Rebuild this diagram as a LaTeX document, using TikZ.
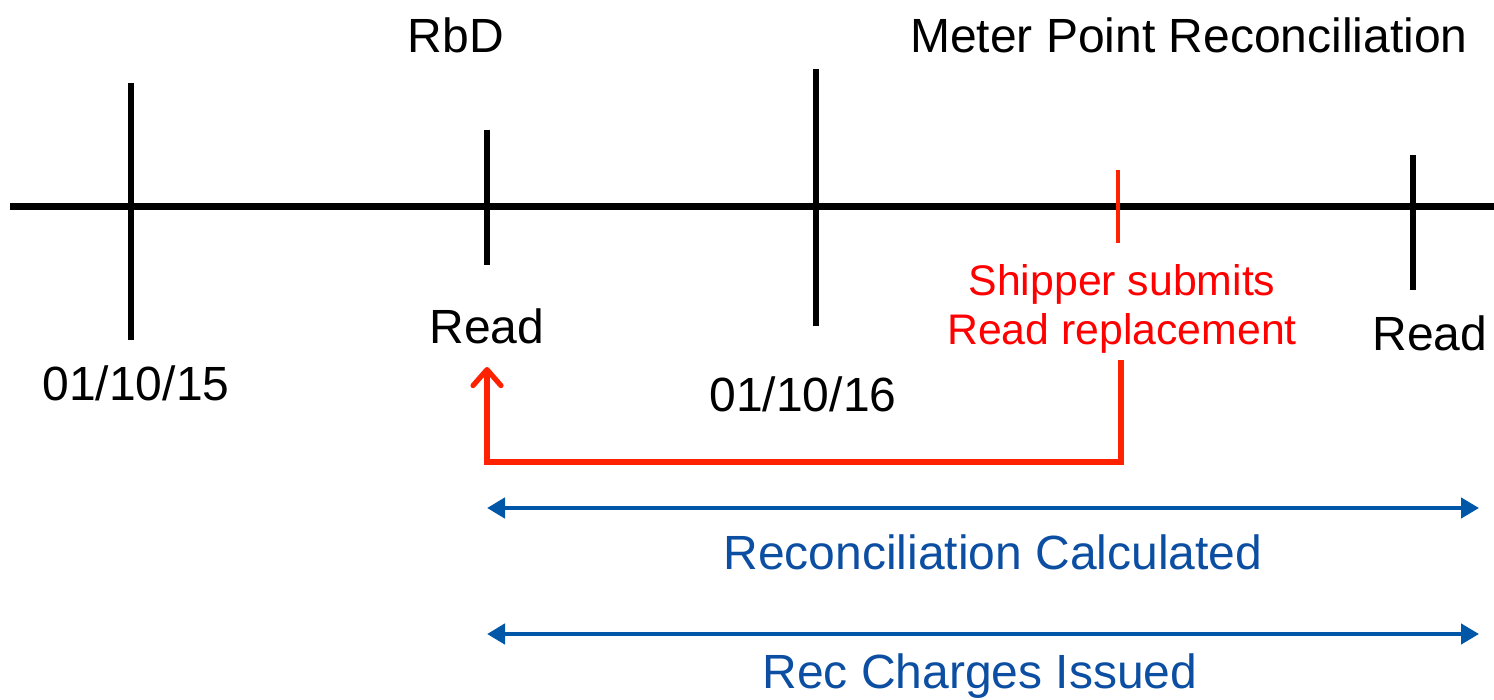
\documentclass[tikz,border=0pt]{standalone}
\usepackage{fontspec}
\setmainfont{Liberation Sans}
\usetikzlibrary{arrows.meta}
\definecolor{redline}{HTML}{FF2200}
\definecolor{redtext}{HTML}{FF0000}
\definecolor{blueline}{HTML}{0057A8}
\definecolor{bluetext}{HTML}{0B4EA2}
\begin{document}
\begin{tikzpicture}[x=0.5pt,y=-0.5pt,
  lbl/.style={font=\fontsize{24}{29}\selectfont, inner sep=0pt, anchor=center},
  redlbl/.style={font=\fontsize{21.4}{26}\selectfont, inner sep=0pt, anchor=center, text=redtext},
  axisline/.style={line width=3.5pt, black},
  tick/.style={line width=3pt, black},
  redtick/.style={line width=2pt, redline},
  redarrow/.style={line width=2.6pt, redline, -{Straight Barb[length=8pt,width=14pt,line width=2.6pt,round]}},
  bluearrow/.style={line width=2.2pt, blueline, {Triangle[length=9pt,width=10pt]}-{Triangle[length=9pt,width=10pt]}}
  ]
\useasboundingbox (0,0) rectangle (1494,700);
% axis
\coordinate (axL) at (10,207);
\coordinate (axR) at (1494,207);
\draw[axisline] (axL) -- (axR);
% ticks
\coordinate (t1a) at (131,83);  \coordinate (t1b) at (131,340);
\coordinate (t2a) at (487,130); \coordinate (t2b) at (487,265);
\coordinate (t3a) at (816,69);  \coordinate (t3b) at (816,326);
\coordinate (t4a) at (1118,170); \coordinate (t4b) at (1118,243);
\coordinate (t5a) at (1413,155); \coordinate (t5b) at (1413,290);
\draw[tick] (t1a) -- (t1b);
\draw[tick] (t2a) -- (t2b);
\draw[tick] (t3a) -- (t3b);
\draw[redtick] (t4a) -- (t4b);
\draw[tick] (t5a) -- (t5b);
% labels
\node[lbl] (rbd) at (456,35) {RbD};
\node[lbl] (mpr) at (1189,35) {Meter Point Reconciliation};
\node[lbl] (read1) at (487,326) {Read};
\node[lbl] (d15) at (136,383) {01/10/15};
\node[lbl] (d16) at (803,394) {01/10/16};
\node[redlbl] (ship1) at (1122,284) {Shipper submits};
\node[redlbl] (ship2) at (1122,333) {Read replacement};
\node[lbl] (read2) at (1430,333) {Read};
% red return arrow
\coordinate (rs) at (1121,360);
\coordinate (rc1) at (1121,462);
\coordinate (rc2) at (487,462);
\coordinate (re) at (487,367);
\draw[redarrow] (rs) -- (rc1) -- (rc2) -- (re);
% blue spans
\coordinate (b1l) at (487,508); \coordinate (b1r) at (1479,508);
\coordinate (b2l) at (487,634); \coordinate (b2r) at (1479,634);
\draw[bluearrow] (b1l) -- (b1r);
\draw[bluearrow] (b2l) -- (b2r);
\node[lbl, text=bluetext] (rc) at (993,552) {Reconciliation Calculated};
\node[lbl, text=bluetext] (rci) at (980,676) {Rec Charges Issued};
\end{tikzpicture}
\end{document}
